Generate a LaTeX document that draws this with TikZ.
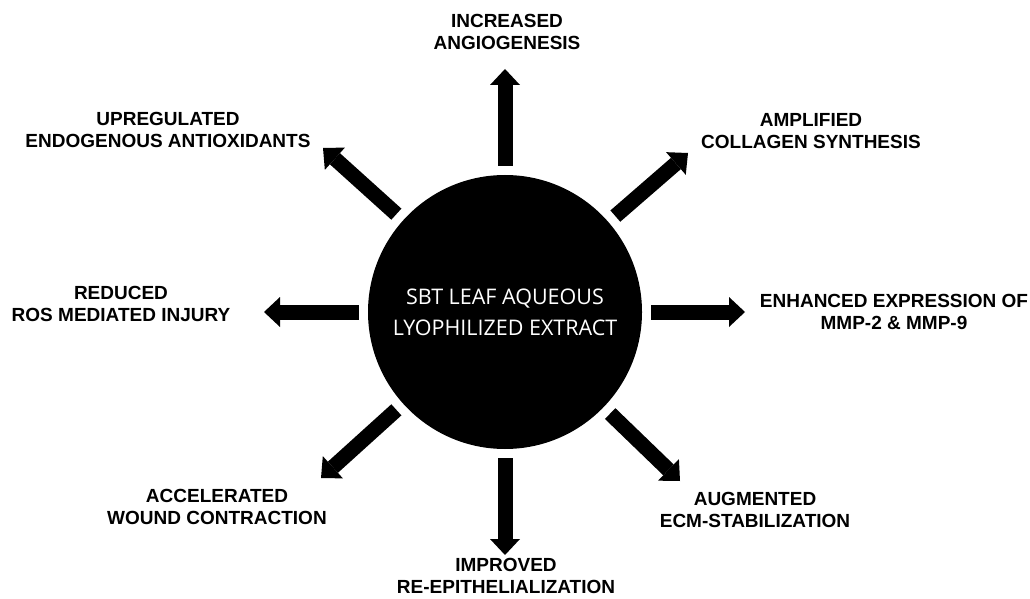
\documentclass[tikz,border=0pt]{standalone}
\usepackage{fontspec}
\setmainfont{Liberation Sans}
\newfontfamily\hubfont{Open Sans}
\usetikzlibrary{arrows.meta}

\begin{document}
\begin{tikzpicture}[x=1pt, y=1pt, >={Triangle[width=30pt, length=16pt, line width=0pt]},
    every node/.style={align=center, font=\bfseries\fontsize{19}{22.5}\selectfont},
    ray/.style={->, line width=15pt, shorten <=9pt}]
    \useasboundingbox (0,0) rectangle (1030,598);

    % Nodes
    \node (hub) [{circle, fill=black, minimum size=274pt, inner sep=0pt, text=white, font=\hubfont\fontsize{21.5}{31}\selectfont}] at (505,286) {SBT LEAF AQUEOUS\\LYOPHILIZED EXTRACT};
    \node (angio) at (507,566) {INCREASED\\ANGIOGENESIS};
    \node (antiox) at (168,468) {UPREGULATED\\ENDOGENOUS ANTIOXIDANTS};
    \node (collagen) at (811,467) {AMPLIFIED\\COLLAGEN SYNTHESIS};
    \node (ros) at (121,294) {REDUCED\\ROS MEDIATED INJURY};
    \node (mmp) at (894,286) {ENHANCED EXPRESSION OF\\MMP-2 \& MMP-9};
    \node (wound) at (217,91) {ACCELERATED\\WOUND CONTRACTION};
    \node (epith) at (506,22) {IMPROVED\\RE-EPITHELIALIZATION};
    \node (ecm) at (755,88) {AUGMENTED\\ECM-STABILIZATION};

    % Arrow tips
    \coordinate (angioTip) at (505,529);
    \coordinate (collagenTip) at (688,445);
    \coordinate (mmpTip) at (745,286);
    \coordinate (ecmTip) at (680,117);
    \coordinate (epithTip) at (505,43);
    \coordinate (woundTip) at (321,120);
    \coordinate (rosTip) at (264,286);
    \coordinate (antioxTip) at (323,450);

    % Arrows out of the extract
    \draw[ray] (hub.90) -- (angioTip);
    \draw[ray] (hub.41) -- (collagenTip);
    \draw[ray] (hub.0) -- (mmpTip);
    \draw[ray] (hub.-44) -- (ecmTip);
    \draw[ray] (hub.-90) -- (epithTip);
    \draw[ray] (hub.222) -- (woundTip);
    \draw[ray] (hub.180) -- (rosTip);
    \draw[ray] (hub.138) -- (antioxTip);

\end{tikzpicture}
\end{document}
